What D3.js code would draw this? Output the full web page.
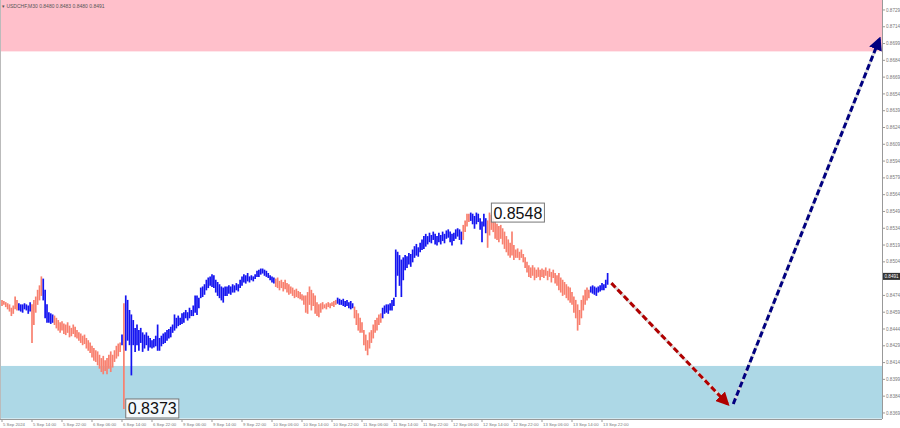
<!DOCTYPE html>
<html><head><meta charset="utf-8">
<script src="https://cdn.jsdelivr.net/npm/d3@7"></script>
<style>html,body{margin:0;padding:0;background:#fff;overflow:hidden}svg{display:block}</style>
</head><body>
<svg id="c" width="900" height="428"></svg>
<script>
// ---- data ----
const title = "USDCHF,M30  0.8480 0.8483 0.8480 0.8491";
const timeLabels = ["5 Sep 2024","5 Sep 14:00","5 Sep 22:00","6 Sep 06:00","6 Sep 14:00","6 Sep 22:00","9 Sep 06:00","9 Sep 14:00","9 Sep 22:00","10 Sep 06:00","10 Sep 14:00","10 Sep 22:00","11 Sep 06:00","11 Sep 14:00","11 Sep 22:00","12 Sep 06:00","12 Sep 14:00","12 Sep 22:00","13 Sep 06:00","13 Sep 14:00","13 Sep 22:00"];
const priceTicks = [0.8729,0.8714,0.8699,0.8684,0.8669,0.8654,0.8639,0.8624,0.8609,0.8594,0.8579,0.8564,0.8549,0.8534,0.8519,0.8504,0.8489,0.8474,0.8459,0.8444,0.8429,0.8414,0.8399,0.8384,0.8369];
const high = [
0.8470,0.8469,0.8468,0.8467,0.8466,0.8463,0.8465,0.8473,0.8470,0.8467,
0.8466,0.8466,0.8467,0.8466,0.8465,0.8468,0.8466,0.8470,0.8473,0.8479,
0.8483,0.8491,0.8489,0.8479,0.8466,0.8459,0.8458,0.8457,0.8456,0.8454,
0.8452,0.8450,0.8451,0.8449,0.8448,0.8450,0.8447,0.8445,0.8448,0.8446,
0.8443,0.8441,0.8440,0.8438,0.8439,0.8436,0.8434,0.8432,0.8429,0.8427,
0.8425,0.8424,0.8421,0.8418,0.8420,0.8416,0.8418,0.8421,0.8424,0.8421,
0.8425,0.8429,0.8431,0.8432,0.8439,0.8467,0.8474,0.8470,0.8461,0.8457,
0.8452,0.8445,0.8448,0.8443,0.8445,0.8441,0.8439,0.8441,0.8438,0.8436,
0.8434,0.8435,0.8438,0.8448,0.8436,0.8438,0.8440,0.8441,0.8443,0.8444,
0.8446,0.8448,0.8457,0.8454,0.8456,0.8454,0.8458,0.8459,0.8461,0.8459,
0.8463,0.8461,0.8465,0.8474,0.8474,0.8472,0.8481,0.8482,0.8484,0.8488,
0.8490,0.8491,0.8493,0.8492,0.8488,0.8486,0.8484,0.8482,0.8481,0.8482,
0.8482,0.8483,0.8482,0.8484,0.8483,0.8485,0.8484,0.8488,0.8491,0.8493,
0.8492,0.8494,0.8491,0.8492,0.8491,0.8493,0.8496,0.8497,0.8498,0.8498,
0.8497,0.8496,0.8494,0.8492,0.8491,0.8490,0.8489,0.8490,0.8487,0.8488,
0.8486,0.8488,0.8485,0.8484,0.8482,0.8481,0.8479,0.8480,0.8478,0.8477,
0.8475,0.8474,0.8474,0.8477,0.8482,0.8479,0.8476,0.8474,0.8468,0.8466,
0.8467,0.8468,0.8466,0.8467,0.8468,0.8467,0.8468,0.8469,0.8470,0.8472,
0.8471,0.8470,0.8471,0.8469,0.8470,0.8468,0.8469,0.8467,0.8464,0.8461,
0.8458,0.8454,0.8450,0.8443,0.8439,0.8434,0.8441,0.8443,0.8448,0.8452,
0.8454,0.8457,0.8458,0.8463,0.8465,0.8466,0.8466,0.8467,0.8470,0.8472,
0.8515,0.8513,0.8510,0.8506,0.8508,0.8510,0.8509,0.8512,0.8511,0.8515,
0.8518,0.8520,0.8517,0.8521,0.8524,0.8527,0.8529,0.8527,0.8530,0.8528,
0.8531,0.8529,0.8527,0.8530,0.8528,0.8531,0.8529,0.8532,0.8533,0.8531,
0.8529,0.8530,0.8533,0.8534,0.8533,0.8531,0.8537,0.8541,0.8547,0.8547,
0.8548,0.8547,0.8545,0.8548,0.8547,0.8543,0.8540,0.8547,0.8543,0.8541,
0.8548,0.8546,0.8543,0.8540,0.8538,0.8536,0.8537,0.8534,0.8531,0.8527,
0.8524,0.8521,0.8531,0.8519,0.8515,0.8516,0.8513,0.8515,0.8511,0.8508,
0.8504,0.8501,0.8499,0.8501,0.8499,0.8497,0.8499,0.8497,0.8498,0.8497,
0.8499,0.8496,0.8498,0.8495,0.8497,0.8494,0.8492,0.8494,0.8490,0.8488,
0.8486,0.8484,0.8482,0.8481,0.8477,0.8473,0.8470,0.8466,0.8461,0.8470,
0.8474,0.8479,0.8481,0.8479,0.8482,0.8483,0.8482,0.8481,0.8482,0.8483,
0.8485,0.8484,0.8488,0.8494];
const low = [
0.8465,0.8466,0.8464,0.8462,0.8460,0.8456,0.8458,0.8462,0.8461,0.8461,
0.8460,0.8459,0.8462,0.8461,0.8458,0.8460,0.8432,0.8448,0.8459,0.8466,
0.8470,0.8474,0.8470,0.8454,0.8450,0.8450,0.8449,0.8450,0.8448,0.8445,
0.8443,0.8441,0.8443,0.8440,0.8439,0.8441,0.8437,0.8438,0.8440,0.8437,
0.8436,0.8434,0.8432,0.8430,0.8431,0.8427,0.8425,0.8423,0.8419,0.8416,
0.8415,0.8412,0.8409,0.8406,0.8404,0.8407,0.8404,0.8409,0.8406,0.8410,
0.8415,0.8418,0.8420,0.8424,0.8430,0.8373,0.8425,0.8434,0.8430,0.8403,
0.8430,0.8424,0.8430,0.8425,0.8432,0.8424,0.8427,0.8430,0.8425,0.8428,
0.8427,0.8428,0.8429,0.8425,0.8425,0.8429,0.8431,0.8432,0.8434,0.8436,
0.8437,0.8441,0.8443,0.8445,0.8447,0.8448,0.8449,0.8450,0.8454,0.8452,
0.8454,0.8456,0.8456,0.8459,0.8457,0.8463,0.8472,0.8473,0.8475,0.8479,
0.8481,0.8483,0.8482,0.8481,0.8477,0.8474,0.8472,0.8470,0.8468,0.8474,
0.8474,0.8476,0.8475,0.8477,0.8477,0.8479,0.8478,0.8481,0.8483,0.8486,
0.8485,0.8487,0.8486,0.8488,0.8487,0.8489,0.8491,0.8491,0.8493,0.8494,
0.8492,0.8491,0.8490,0.8488,0.8486,0.8485,0.8482,0.8481,0.8479,0.8481,
0.8478,0.8480,0.8477,0.8475,0.8476,0.8474,0.8472,0.8473,0.8472,0.8471,
0.8470,0.8466,0.8459,0.8458,0.8466,0.8461,0.8465,0.8458,0.8456,0.8455,
0.8459,0.8462,0.8463,0.8462,0.8464,0.8463,0.8465,0.8464,0.8466,0.8467,
0.8466,0.8466,0.8465,0.8464,0.8465,0.8463,0.8462,0.8463,0.8454,0.8448,
0.8443,0.8441,0.8441,0.8430,0.8425,0.8421,0.8427,0.8432,0.8436,0.8441,
0.8443,0.8448,0.8450,0.8454,0.8458,0.8459,0.8458,0.8461,0.8461,0.8465,
0.8473,0.8492,0.8483,0.8473,0.8488,0.8497,0.8499,0.8502,0.8500,0.8504,
0.8508,0.8510,0.8509,0.8513,0.8515,0.8516,0.8518,0.8520,0.8522,0.8521,
0.8524,0.8520,0.8519,0.8522,0.8520,0.8523,0.8521,0.8525,0.8526,0.8522,
0.8519,0.8523,0.8525,0.8527,0.8524,0.8520,0.8524,0.8531,0.8536,0.8540,
0.8541,0.8538,0.8534,0.8538,0.8540,0.8533,0.8522,0.8536,0.8530,0.8517,
0.8528,0.8533,0.8531,0.8525,0.8524,0.8522,0.8525,0.8520,0.8516,0.8513,
0.8510,0.8508,0.8510,0.8506,0.8508,0.8508,0.8506,0.8508,0.8504,0.8499,
0.8495,0.8491,0.8490,0.8492,0.8488,0.8490,0.8491,0.8488,0.8491,0.8490,
0.8492,0.8488,0.8491,0.8486,0.8490,0.8485,0.8483,0.8479,0.8477,0.8474,
0.8475,0.8472,0.8470,0.8468,0.8466,0.8459,0.8454,0.8443,0.8448,0.8454,
0.8461,0.8466,0.8470,0.8472,0.8477,0.8476,0.8475,0.8474,0.8477,0.8478,
0.8479,0.8479,0.8481,0.8484];
// wave segments: first bar index of each wave and its colour
const waveStarts = [0,9,16,22,28,64,65,66,146,179,188,203,246,250,259,314];
const waveColors = ["salmon","blue","salmon","blue","salmon","blue","salmon","blue","salmon","blue","salmon","blue","salmon","blue","salmon","blue"];
const resistanceZone = [0.8692, 0.8738];
const supportZone = [0.8364, 0.8411];
const arrowDown = [{i:325,p:0.8485},{i:387,p:0.8377}];
const arrowUp = [{i:390,p:0.8377},{i:468,p:0.8703}];
const markHigh = {i:261, p:0.8548, text:"0.8548"};
const markLow = {i:66, p:0.8373, text:"0.8373"};
const lastPrice = 0.8491;

// ---- layout ----
const W = 882, H = 419;
const svg = d3.select("#c");
const x = d3.scaleLinear().domain([0,16]).range([2,32]);
const y = d3.scaleLinear().domain([0.83636,0.87379]).range([H,0]);
const colorOf = i => { let c = waveColors[0]; for (let k=0;k<waveStarts.length;k++) if (i>=waveStarts[k]) c = waveColors[k]; return c; };
const palette = {salmon:"#F8806F", blue:"#1414F0"};

// zones
svg.append("rect").attr("x",0).attr("width",W).attr("y",y(resistanceZone[1])).attr("height",y(resistanceZone[0])-y(resistanceZone[1])).attr("fill","#FFC0CB");
svg.append("rect").attr("x",0).attr("width",W).attr("y",y(supportZone[1])).attr("height",y(supportZone[0])-y(supportZone[1])).attr("fill","#ADD8E6");

// title
svg.append("text").attr("x",2).attr("y",8).attr("font-family","Liberation Sans, Arial").attr("font-size",5).attr("fill","#555").text("\u25BE " + title);

// bars
svg.append("g").selectAll("line").data(high.map((h,i)=>({i,h,l:low[i]}))).join("line")
  .attr("x1",d=>x(d.i)).attr("x2",d=>x(d.i))
  .attr("y1",d=>y(d.h)).attr("y2",d=>y(d.l)+0.5)
  .attr("stroke",d=>palette[colorOf(d.i)]).attr("stroke-width",1.7);

// arrows
const defs = svg.append("defs");
function marker(id,color){
  defs.append("marker").attr("id",id).attr("viewBox","0 0 10 10").attr("refX",8).attr("refY",5)
    .attr("markerWidth",4.5).attr("markerHeight",4.5).attr("markerUnits","strokeWidth").attr("orient","auto")
    .append("path").attr("d","M0,0 L10,5 L0,10 z").attr("fill",color);
}
marker("mr","#B00000"); marker("mb","#000080");
function arrow(pts,color,m){
  svg.append("line").attr("x1",x(pts[0].i)).attr("y1",y(pts[0].p)).attr("x2",x(pts[1].i)).attr("y2",y(pts[1].p))
    .attr("stroke","#ddd").attr("stroke-width",3);
  svg.append("line").attr("x1",x(pts[0].i)).attr("y1",y(pts[0].p)).attr("x2",x(pts[1].i)).attr("y2",y(pts[1].p))
    .attr("stroke",color).attr("stroke-width",3).attr("stroke-dasharray","6,3").attr("marker-end",`url(#${m})`);
}
arrow(arrowDown,"#B00000","mr");
arrow(arrowUp,"#000080","mb");

// price marks
function mark(m){
  const g = svg.append("g");
  const t = g.append("text").attr("x",x(m.i)+2).attr("y",y(m.p)+6).attr("font-family","Liberation Sans, Arial").attr("font-size",16).attr("fill","#111").text(m.text);
  const bb = t.node().getBBox();
  g.insert("rect","text").attr("x",bb.x-2).attr("y",y(m.p)-9.5).attr("width",bb.width+4).attr("height",19)
    .attr("fill","rgba(255,255,255,0.85)").attr("stroke","#777").attr("stroke-width",1);
}
mark(markHigh); mark(markLow);

// right axis
svg.append("line").attr("x1",W+0.5).attr("x2",W+0.5).attr("y1",0).attr("y2",H).attr("stroke","#999");
const ra = svg.append("g").attr("font-family","Liberation Sans, Arial").attr("font-size",4.6).attr("fill","#777");
priceTicks.forEach(p=>{
  svg.append("line").attr("x1",W).attr("x2",W+3).attr("y1",y(p)).attr("y2",y(p)).attr("stroke","#999");
  if (Math.abs(y(p)-y(lastPrice)) > 7)
    ra.append("text").attr("x",W+4).attr("y",y(p)+1.6).text(p.toFixed(4));
});
svg.append("rect").attr("x",W+1).attr("y",y(lastPrice)-3.5).attr("width",17).attr("height",7).attr("fill","#333");
svg.append("text").attr("x",W+2.5).attr("y",y(lastPrice)+1.7).attr("font-family","Liberation Sans, Arial").attr("font-size",4.6).attr("fill","#fff").text(lastPrice.toFixed(4));

// bottom axis
svg.append("line").attr("x1",0).attr("x2",W).attr("y1",H+0.5).attr("y2",H+0.5).attr("stroke","#999");
const ba = svg.append("g").attr("font-family","Liberation Sans, Arial").attr("font-size",4.3).attr("fill","#777");
timeLabels.forEach((t,k)=>{
  const xx = x(k*16);
  svg.append("line").attr("x1",xx).attr("x2",xx).attr("y1",H).attr("y2",H+3).attr("stroke","#999");
  ba.append("text").attr("x",xx+1).attr("y",H+7).text(t);
});
svg.append("line").attr("x1",0.5).attr("x2",0.5).attr("y1",0).attr("y2",H).attr("stroke","#bbb");
</script>
</body></html>
